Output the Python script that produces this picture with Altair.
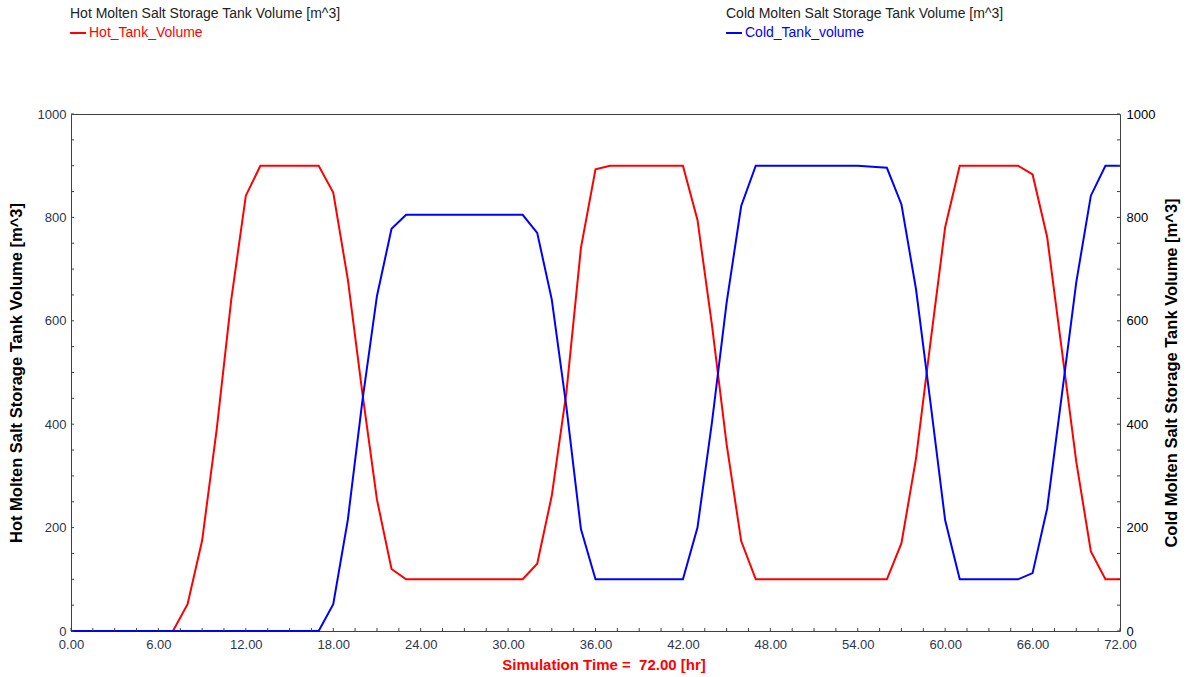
import altair as alt
import pandas as pd

# Simulation output, one sample per hour
hours = list(range(0, 73))
hot_volume = [
    0, 0, 0, 0, 0, 0, 0, 0,
    52, 175, 390, 641, 842,
    900, 900, 900, 900, 900,
    848, 680, 460, 254, 120,
    100, 100, 100, 100, 100, 100, 100, 100, 100,
    130, 262, 461, 741, 893,
    900, 900, 900, 900, 900, 900,
    795, 590, 361, 174,
    100, 100, 100, 100, 100, 100, 100, 100, 100, 100,
    170, 334, 560, 781,
    900, 900, 900, 900, 900,
    883, 762, 545, 327, 154, 100, 100,
]
cold_volume = [
    0, 0, 0, 0, 0, 0, 0, 0, 0, 0, 0, 0, 0, 0, 0, 0, 0, 0,
    52, 215, 445, 648, 778,
    805, 805, 805, 805, 805, 805, 805, 805, 805,
    770, 641, 434, 197,
    100, 100, 100, 100, 100, 100, 100,
    200, 405, 635, 822,
    900, 900, 900, 900, 900, 900, 900, 900, 898,
    896, 825, 661, 440, 214,
    100, 100, 100, 100, 100,
    112, 237, 455, 675, 842, 900, 900,
]

legend_titles = [
    "Hot Molten Salt Storage Tank Volume [m^3]",
    "Cold Molten Salt Storage Tank Volume [m^3]",
]
series_names = ["Hot_Tank_Volume", "Cold_Tank_volume"]
# non-breaking space keeps the double gap after "=" in SVG text
x_title = "Simulation Time = \u00a072.00 [hr]"

x_label_values = list(range(0, 73, 6))
x_minor_ticks = [i * 1.5 for i in range(49)]
y_label_values = list(range(0, 1001, 200))
y_minor_ticks = list(range(0, 1001, 50))

FONT = "Liberation Sans"
W, H = 1049, 517
RED, BLUE = "#ff0000", "#0000ff"
FRAME = "#404040"

df = pd.DataFrame({"hour": hours, "hot": hot_volume, "cold": cold_volume})
x_scale = alt.Scale(domain=[0, 72], nice=False, zero=False)
y_scale = alt.Scale(domain=[0, 1000], nice=False)

# One shared x encoding so every layer merges into the same bottom axis
x_enc = alt.X(
    "hour:Q",
    scale=x_scale,
    axis=alt.Axis(
        values=x_label_values,
        format=".2f",
        labelFlush=False,
        title=x_title,
        titleColor=RED,
        titleFontSize=15,
        titleFontWeight="bold",
        titlePadding=6,
        titleX=W / 2 + 8,
        labelColor="#2b3550",
        labelPadding=7,
    ),
)

hot_line = alt.Chart(df).mark_line(color=RED, strokeWidth=2).encode(
    x=x_enc,
    y=alt.Y(
        "hot:Q",
        scale=y_scale,
        axis=alt.Axis(
            orient="left",
            values=y_label_values,
            format="d",
            labelFlush=False,
            title=legend_titles[0],
            titleFontSize=16.5,
            titleFontWeight="bold",
            titlePadding=13,
            labelColor="#2b3550",
            labelPadding=5,
        ),
    ),
)

cold_line = alt.Chart(df).mark_line(color=BLUE, strokeWidth=2).encode(
    x=x_enc,
    y=alt.Y(
        "cold:Q",
        scale=y_scale,
        axis=alt.Axis(
            orient="right",
            values=y_label_values,
            format="d",
            labelFlush=False,
            title=legend_titles[1],
            titleAngle=270,
            titleFontSize=16.5,
            titleFontWeight="bold",
            titlePadding=25,
            labelColor="#000000",
            labelPadding=6,
        ),
    ),
)

# Short inward tick marks on the frame
y_tick_df = pd.DataFrame({"v": y_minor_ticks})
x_tick_df = pd.DataFrame({"hour": x_minor_ticks})
left_ticks = alt.Chart(y_tick_df).mark_rule(color=FRAME).encode(
    y=alt.Y("v:Q", scale=y_scale, axis=None), x=alt.value(0), x2=alt.value(3)
)
right_ticks = alt.Chart(y_tick_df).mark_rule(color=FRAME).encode(
    y=alt.Y("v:Q", scale=y_scale, axis=None), x=alt.value(W - 3), x2=alt.value(W)
)
bottom_ticks = alt.Chart(x_tick_df).mark_rule(color=FRAME).encode(
    x=x_enc, y=alt.value(H - 3), y2=alt.value(H)
)

# Legend blocks above the plot
one = pd.DataFrame({"k": [0]})


def legend_block(x0, title, name, color):
    head = alt.Chart(one).mark_text(
        text=title, align="left", baseline="middle", font=FONT, fontSize=14, color="#222222"
    ).encode(x=alt.value(x0), y=alt.value(-100))
    swatch = alt.Chart(one).mark_rule(color=color, strokeWidth=2).encode(
        x=alt.value(x0), x2=alt.value(x0 + 16), y=alt.value(-81)
    )
    label = alt.Chart(one).mark_text(
        text=name, align="left", baseline="middle", font=FONT, fontSize=14, color=color
    ).encode(x=alt.value(x0 + 19), y=alt.value(-81))
    return [head, swatch, label]


legend_layers = legend_block(-1, legend_titles[0], series_names[0], RED) + legend_block(
    655, legend_titles[1], series_names[1], BLUE
)

chart = (
    alt.layer(hot_line, cold_line, left_ticks, right_ticks, bottom_ticks, *legend_layers)
    .resolve_scale(y="independent")
    .properties(
        width=W,
        height=H,
        autosize=alt.AutoSizeParams(type="none"),
        padding={"left": 71, "top": 114, "right": 67, "bottom": 46},
        background="white",
    )
    .configure_view(stroke=FRAME, strokeWidth=1)
    .configure_axis(
        grid=False,
        domain=False,
        ticks=False,
        labelFont=FONT,
        labelFontSize=13,
        titleFont=FONT,
        titleColor="#000000",
    )
)

chart.save("out.html", embed_options={"renderer": "svg", "actions": False})
